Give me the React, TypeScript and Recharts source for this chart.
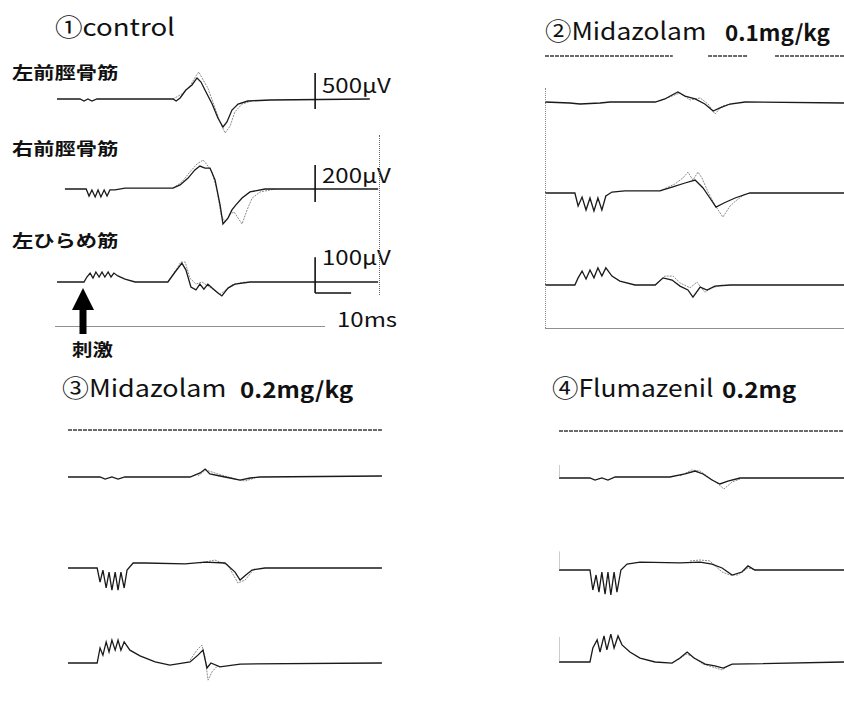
import { LineChart, Line, XAxis, YAxis, ReferenceLine } from 'recharts';

type Pair = [number, number | null];

const PX_PER_MS = 3.6;
const FONT = '"Noto Sans CJK JP", "Noto Sans", sans-serif';
const INK = '#1a1a1a';

// ① control  — [ms, µV]
const ctrlLeftTA: Pair[] = [
  [0, 0], [6.4, 0], [7.5, -28], [8.6, 0], [9.7, -28], [11.1, 0], [32.2, 0], [33.1, -28], [34.2, 14],
  [35.8, 125], [37.5, 195], [38.9, 292], [40, 236], [41.1, 125], [43.1, -70], [44.7, -264], [46.1, -389],
  [47.2, -320], [48.6, -153], [50.3, -70], [53, -28], [59.2, -14], [86.9, 0],
];
const ctrlLeftTA2: Pair[] = [
  [32.2, 0], [34.7, 70], [36.9, 180], [38.6, 320], [39.4, 375], [40.6, 264], [41.9, 153], [43.6, -83],
  [45.3, -320], [46.7, -473], [48.1, -375], [49.4, -180], [51.4, -70], [55, -14],
];
const ctrlRightTA: Pair[] = [
  [2.2, 0], [8.1, 0], [8.9, -38], [9.7, -5], [10.6, -43], [11.4, -5], [12.2, -43], [13.1, -5], [13.9, -38],
  [14.7, -5], [16.1, -5], [18.9, 5], [32.2, 5], [34.2, 22], [36.4, 59], [38.3, 103], [39.7, 124], [41.1, 113],
  [42.5, 113], [43.9, 49], [45.3, -86], [46.1, -189], [47.5, -157], [48.6, -113], [49.7, -86], [51.4, -49],
  [53.6, -16], [57.8, 0], [89.2, 0],
];
const ctrlRightTA2: Pair[] = [
  [32.2, 5], [34.7, 38], [36.9, 92], [38.9, 135], [40.6, 157], [41.7, 130], [43.1, 92], [44.4, -5],
  [45.6, -140], [46.7, -178], [48.1, -135], [49.2, -124], [50.3, -157], [51.4, -189], [52.8, -113],
  [54.2, -49], [56.4, -16], [60.6, 0],
];
const ctrlLeftSol: Pair[] = [
  [0, 0], [7.5, 0], [8.3, 14], [9.2, 25], [10, 11], [10.8, 28], [11.7, 14], [12.5, 28], [13.3, 14], [14.2, 28],
  [15, 14], [15.8, 25], [16.9, 17], [18.9, 8], [21.7, 0], [30.8, 0], [32.8, 28], [34.7, 53], [35.8, 34],
  [37.2, -14], [38.6, -22], [39.7, -6], [40.8, -20], [41.9, -6], [43.1, -17], [44.7, -31], [45.8, -39],
  [47.5, -17], [49.4, -6], [53.6, 0], [89.2, 0],
];
const ctrlLeftSol2: Pair[] = [
  [30.8, 0], [33.1, 34], [34.4, 56], [35.6, 56], [36.9, 11], [38.6, -6], [40.3, 0], [41.9, -11], [43.6, -22],
  [45.3, -34], [46.9, -22], [48.6, -8], [52.2, 0],
];

// ② Midazolam 0.1mg/kg
const mid1Top: Pair[] = [[0, 0], [35.5, 0], [35.6, null], [45.3, 0], [56.4, 0], [56.5, null], [63.9, 0], [83.3, 0]];
const mid1LeftTA: Pair[] = [
  [0, 0], [6.9, -14], [9.7, -28], [15.3, -14], [18.1, 0], [30.6, 0], [33.3, 42], [35.3, 97], [36.9, 139],
  [38.9, 83], [41.7, 42], [44.4, -28], [46.7, -125], [48.6, -83], [51.4, -28], [55.6, 0], [83.3, -14],
];
const mid1LeftTA2: Pair[] = [
  [31.9, 14], [35.3, 83], [37.5, 125], [40.3, 28], [43.1, 56], [45.3, -28], [47.2, -167], [49.2, -56], [52.8, -14],
];
const mid1RightTA: Pair[] = [
  [0, 0], [8.3, 0], [9.2, -70], [10.3, -22], [11.4, -92], [12.5, -27], [13.6, -97], [14.7, -27], [15.8, -92],
  [16.9, -16], [18.6, 5], [22.2, 11], [31.9, 11], [35.3, 32], [38.9, 54], [41.7, 70], [43.9, 27], [45.8, -27],
  [47.5, -76], [49.7, -54], [52.8, -27], [56.9, 0], [83.3, 0],
];
const mid1RightTA2: Pair[] = [
  [31.9, 11], [36.1, 49], [38.3, 81], [39.7, 113], [41.1, 70], [42.5, 113], [43.6, 81], [45.3, 5], [47.2, -65],
  [49.4, -130], [51.4, -70], [53.3, -38], [55.6, -5],
];
const mid1LeftSol: Pair[] = [
  [0, 0], [8.3, 0], [9.2, 20], [10.3, 39], [11.4, 17], [12.5, 42], [13.6, 20], [14.7, 48], [15.8, 25],
  [16.9, 48], [18.6, 25], [20.8, 11], [25, 0], [30.6, 0], [32.8, 20], [35.3, 14], [37.5, -3], [39.7, -14],
  [41.1, -34], [43.1, -6], [45, -14], [47.2, -3], [51.4, 0], [83.3, 0],
];
const mid1LeftSol2: Pair[] = [
  [30.6, 0], [33.3, 25], [35.6, 25], [37.5, 6], [40.3, -8], [42.2, 8], [44.4, -20], [46.4, -8], [49.2, 0],
];

// ③ Midazolam 0.2mg/kg
const mid2Top: Pair[] = [[0, 0], [87.5, 0]];
const mid2LeftTA: Pair[] = [
  [0, 0], [8.9, 0], [10.3, -28], [12.2, 0], [13.9, -28], [15.8, 0], [33.9, 0], [36.7, 56], [38.1, 111],
  [39.4, 42], [42.2, 14], [45, -14], [47.8, -42], [50.6, -14], [53.3, 0], [87.2, 14],
];
const mid2LeftTA2: Pair[] = [[36.1, 14], [38.3, 97], [41.7, 42], [46.4, -28], [49.2, -56], [51.9, -14]];
const mid2RightTA: Pair[] = [
  [0, 0], [8.1, 0], [8.9, -76], [9.7, -11], [10.6, -108], [11.4, -22], [12.2, -119], [13.1, -22], [13.9, -119],
  [14.7, -22], [15.6, -108], [16.4, -11], [18.1, 27], [21.4, 27], [32.5, 22], [38.1, 32], [43.6, 27],
  [46.4, -22], [47.8, -65], [49.4, -38], [51.1, -11], [54.7, 0], [87.2, 0],
];
const mid2RightTA2: Pair[] = [[36.7, 27], [40.8, 43], [44.4, 16], [47.2, -81], [49.2, -65], [51.9, 0]];
const mid2LeftSol: Pair[] = [
  [0, 0], [8.1, 0], [8.9, 42], [9.7, 22], [10.6, 59], [11.4, 31], [12.2, 64], [13.1, 36], [13.9, 64],
  [14.7, 36], [15.6, 59], [17.2, 36], [20, 20], [24.2, 3], [28.3, -6], [33.9, 3], [36.1, 22], [37.5, 36],
  [38.6, -14], [39.7, 0], [42.2, -11], [47.8, -3], [87.2, 0],
];
const mid2LeftSol2: Pair[] = [[33.9, 8], [35.8, 36], [37.2, 50], [38.1, 14], [38.9, -48], [40, -25], [41.7, -6]];

// ④ Flumazenil 0.2mg
const flmTop: Pair[] = [[0, 0], [79.4, 0]];
const flmLeftTA: Pair[] = [
  [0, 0], [8.6, 0], [10, -28], [11.9, 0], [13.6, -28], [15.6, 14], [18.3, 14], [30.8, 14], [35, 56],
  [37.8, 97], [40, 56], [42.5, -28], [44.7, -83], [46.9, -42], [50.3, 0], [79.4, 0],
];
const flmLeftTA2: Pair[] = [
  [33.6, 28], [36.9, 111], [39.2, 97], [41.9, 0], [44.2, -83], [45.8, -153], [48.1, -56], [50.3, -14],
];
const flmRightTA: Pair[] = [
  [0, 0], [8.6, 0], [9.4, -108], [10.3, -27], [11.1, -119], [11.9, -11], [12.8, -130], [13.6, -11],
  [14.4, -135], [15.3, -11], [16.1, -119], [17.2, 0], [18.9, 32], [22.5, 43], [33.6, 38], [39.2, 43],
  [42.5, 32], [45.3, 11], [48.1, -27], [50.8, -11], [52.5, 22], [54.4, 0], [79.4, 0],
];
const flmRightTA2: Pair[] = [
  [36.4, 49], [39.2, 54], [41.9, 49], [45.3, -11], [47.5, -27], [49.7, -27], [52.5, 11], [54.7, 0],
];
const flmLeftSol: Pair[] = [
  [0, 0], [8.6, 0], [9.4, 39], [10.6, 62], [11.4, 28], [12.5, 73], [13.3, 34], [14.4, 78], [15.3, 39],
  [16.4, 73], [17.5, 48], [19.7, 28], [22.5, 11], [26.7, 0], [31.4, -3], [33.6, 11], [35.6, 28], [37.5, 11],
  [40.6, -6], [43.3, -11], [45.6, -17], [48.1, -6], [79.4, 0],
];
const flmLeftSol2: Pair[] = [[33.1, 6], [35.3, 22], [36.9, 17], [40, -6], [45.3, -22], [47.5, -8]];

const TIME_TICKS = [0, 10, 20, 30, 40, 50, 60, 70];

interface Bar {
  t: number;
  lo: number;
  hi: number;
  t2?: number;
  faint?: boolean;
}

interface TraceProps {
  left: number;
  baseline: number;
  sweep: number;
  gain: number; // µV per pixel
  height: number;
  main: Pair[];
  second?: Pair[];
  bar?: Bar;
  flat?: boolean;
}

const rows = (arr: Pair[]) => arr.map(([t, v]) => ({ t, v }));

function Trace({ left, baseline, sweep, gain, height, main, second, bar, flat }: TraceProps) {
  const width = sweep * PX_PER_MS;
  const half = (gain * height) / 2;
  return (
    <div style={{ position: 'absolute', left, top: baseline - height / 2 }}>
      <LineChart width={width} height={height} margin={{ top: 0, right: 0, bottom: 0, left: 0 }}>
        <XAxis type="number" dataKey="t" domain={[0, sweep]} hide allowDataOverflow />
        <YAxis type="number" domain={[-half, half]} hide allowDataOverflow />
        {second && (
          <Line
            data={rows(second)}
            dataKey="v"
            stroke="#8c8c8c"
            strokeWidth={1}
            strokeDasharray="2 1"
            dot={false}
            isAnimationActive={false}
          />
        )}
        <Line
          data={rows(main)}
          dataKey="v"
          stroke={flat ? '#3a3a3a' : INK}
          strokeWidth={flat ? 1.3 : 1.3}
          strokeDasharray={flat ? '4 1' : undefined}
          dot={false}
          isAnimationActive={false}
        />
        {bar && (
          <ReferenceLine
            segment={[{ x: bar.t, y: bar.lo }, { x: bar.t, y: bar.hi }]}
            stroke={bar.faint ? '#999' : '#111'}
            strokeWidth={bar.faint ? 1 : 1.6}
          />
        )}
        {bar && bar.t2 !== undefined && (
          <ReferenceLine
            segment={[{ x: bar.t, y: bar.lo }, { x: bar.t2, y: bar.lo }]}
            stroke="#111"
            strokeWidth={1.6}
          />
        )}
      </LineChart>
    </div>
  );
}

function TimeAxis({ left, top, sweep, line }: { left: number; top: number; sweep: number; line: boolean }) {
  return (
    <div style={{ position: 'absolute', left, top }}>
      <LineChart width={sweep * PX_PER_MS} height={14} margin={{ top: 0, right: 0, bottom: 0, left: 0 }}>
        <XAxis
          type="number"
          domain={[0, sweep]}
          ticks={TIME_TICKS.map((t) => t + 8)}
          height={14}
          tickSize={3}
          tickFormatter={() => ''}
          axisLine={line ? { stroke: '#222', strokeWidth: 1.2 } : false}
          tickLine={{ stroke: '#444' }}
        />
        <YAxis hide domain={[0, 1]} />
      </LineChart>
    </div>
  );
}

function Txt({ x, y, size, bold, children, sx = 1.2 }: { x: number; y: number; size: number; bold?: boolean; children: React.ReactNode; sx?: number }) {
  return (
    <div
      style={{
        position: 'absolute',
        left: x,
        top: y,
        fontFamily: FONT,
        fontSize: size,
        lineHeight: `${size}px`,
        fontWeight: bold ? 700 : 400,
        color: '#111',
        whiteSpace: 'nowrap',
        transform: `scaleX(${sx})`,
        transformOrigin: 'left top',
      }}
    >
      {children}
    </div>
  );
}

export default function App() {
  const P1 = 57;
  const P2 = 545;
  const P3 = 68;
  const P4 = 559;
  return (
    <div style={{ position: 'absolute', left: 0, top: 0, width: 844, height: 702, background: '#fff', overflow: 'hidden' }}>
      {/* ① control */}
      <Txt x={55} y={14} size={24} sx={1.15}>①control</Txt>
      <Txt x={12} y={63} size={17} bold sx={1.25}>左前脛骨筋</Txt>
      <Txt x={12} y={139} size={17} bold sx={1.25}>右前脛骨筋</Txt>
      <Txt x={12} y={231} size={17} bold sx={1.25}>左ひらめ筋</Txt>
      <Trace left={P1} baseline={99} sweep={90} gain={13.9} height={90} main={ctrlLeftTA} second={ctrlLeftTA2} bar={{ t: 71.7, lo: -139, hi: 361 }} />
      <Trace left={P1} baseline={189} sweep={90} gain={5.4} height={90} main={ctrlRightTA} second={ctrlRightTA2} bar={{ t: 71.7, lo: -70, hi: 130 }} />
      <Trace left={P1} baseline={282} sweep={90} gain={2.8} height={60} main={ctrlLeftSol} second={ctrlLeftSol2} bar={{ t: 71.7, lo: -31, hi: 69, t2: 81.7 }} />
      <Txt x={322} y={75} size={20}>500μV</Txt>
      <Txt x={322} y={165} size={20}>200μV</Txt>
      <Txt x={322} y={247} size={20}>100μV</Txt>
      <div style={{ position: 'absolute', left: 379, top: 135, height: 160, borderLeft: '1px dotted #666' }} />
      <TimeAxis left={55} top={326} sweep={75} line />
      <Txt x={337} y={309} size={20}>10ms</Txt>
      <svg style={{ position: 'absolute', left: 70, top: 286 }} width={28} height={50}>
        <polygon points="13,2 24,24 2,24" fill="#000" />
        <rect x={9.5} y={23} width={7} height={25} fill="#000" />
      </svg>
      <Txt x={72} y={340} size={17} bold>刺激</Txt>

      {/* ② Midazolam 0.1mg/kg */}
      <Txt x={545} y={18} size={24} sx={1.1}>②Midazolam</Txt>
      <Txt x={725} y={20} size={22} bold sx={1.02}>0.1mg/kg</Txt>
      <Trace left={P2} baseline={56} sweep={83.3} gain={5} height={10} main={mid1Top} flat />
      <Trace left={P2} baseline={102} sweep={83.3} gain={13.9} height={60} main={mid1LeftTA} second={mid1LeftTA2} />
      <Trace left={P2} baseline={193} sweep={83.3} gain={5.4} height={70} main={mid1RightTA} second={mid1RightTA2} />
      <Trace left={P2} baseline={285} sweep={83.3} gain={2.8} height={60} main={mid1LeftSol} second={mid1LeftSol2} />
      <div style={{ position: 'absolute', left: 545, top: 88, height: 240, borderLeft: '1px dotted #888' }} />
      <TimeAxis left={P2} top={328} sweep={83.3} line />

      {/* ③ Midazolam 0.2mg/kg */}
      <Txt x={62} y={375} size={24} sx={1.12}>③Midazolam</Txt>
      <Txt x={240} y={377} size={22} bold sx={1.1}>0.2mg/kg</Txt>
      <Trace left={P3} baseline={430} sweep={87.5} gain={5} height={10} main={mid2Top} flat />
      <Trace left={P3} baseline={477} sweep={87.5} gain={13.9} height={40} main={mid2LeftTA} second={mid2LeftTA2} />
      <Trace left={P3} baseline={568} sweep={87.5} gain={5.4} height={70} main={mid2RightTA} second={mid2RightTA2} />
      <Trace left={P3} baseline={663} sweep={87.5} gain={2.8} height={70} main={mid2LeftSol} second={mid2LeftSol2} />
      <TimeAxis left={P3} top={699} sweep={87.5} line={false} />

      {/* ④ Flumazenil 0.2mg */}
      <Txt x={552} y={375} size={24} sx={1.1}>④Flumazenil</Txt>
      <Txt x={722} y={377} size={22} bold sx={1.1}>0.2mg</Txt>
      <Trace left={P4} baseline={431} sweep={79.4} gain={5} height={10} main={flmTop} flat />
      <Trace left={P4} baseline={478} sweep={79.4} gain={13.9} height={50} main={flmLeftTA} second={flmLeftTA2} bar={{ t: 0, lo: 0, hi: 180, faint: true }} />
      <Trace left={P4} baseline={570} sweep={79.4} gain={5.4} height={70} main={flmRightTA} second={flmRightTA2} bar={{ t: 0, lo: 0, hi: 100, faint: true }} />
      <Trace left={P4} baseline={662} sweep={79.4} gain={2.8} height={70} main={flmLeftSol} second={flmLeftSol2} bar={{ t: 0, lo: 0, hi: 70, faint: true }} />
    </div>
  );
}
